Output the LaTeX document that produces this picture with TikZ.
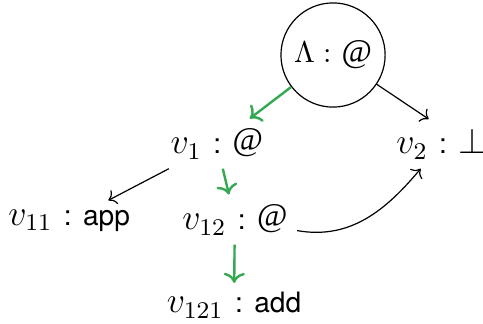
\documentclass[tikz,border=0pt]{standalone}
\usepackage{amsmath, amssymb}
\usepackage{fontspec}
\setsansfont[Scale=0.8]{TeX Gyre Heros}
\newfontfamily\atfont{Liberation Serif}
\usepackage{xcolor}
\usepackage{tikz}
\usetikzlibrary{arrows.meta, positioning}

\definecolor{pathgreen}{RGB}{52,168,83}
\newcommand{\atsym}[1]{\raisebox{#1}{\atfont\fontsize{11}{12}\selectfont @}}

\begin{document}
\begin{tikzpicture}[
    vert/.style={anchor=base, inner sep=3pt, font=\fontsize{11.7}{14}\selectfont},
    onpath/.style={->, draw=pathgreen, thick},
    offpath/.style={->}
  ]
  \useasboundingbox (0,0) rectangle (5.656,-3.794);
  \node[draw, circle, minimum size=1.22cm, inner sep=0pt] (root) at (3.90,-0.644) {$\Lambda :$ \atsym{0pt}};
  \node[vert] (v1) at (2.54,-1.80) {$v_1$ \textsf{:}~\atsym{1.2pt}};
  \node[vert] (v2) at (5.17,-1.80) {$v_2$ \textsf{:}~$\bot$};
  \node[vert] (v11) at (0.81,-2.64) {$v_{11}$ \textsf{:}~\textsf{app}};
  \node[vert] (v12) at (2.75,-2.69) {$v_{12}$ \textsf{:}~\atsym{1.2pt}};
  \node[vert] (v121) at (2.74,-3.665) {$v_{121}$ \textsf{:}~\textsf{add}};
  \draw[onpath] (root) -- (v1);
  \draw[offpath] (root) -- ([xshift=-0.15cm]v2.north);
  \draw[offpath] (v1) -- (v11);
  \draw[onpath] (v1) -- (v12);
  \draw[offpath] (v12) to[out=-10, in=230] (v2);
  \draw[onpath] (v12) -- (v121);
\end{tikzpicture}
\end{document}
